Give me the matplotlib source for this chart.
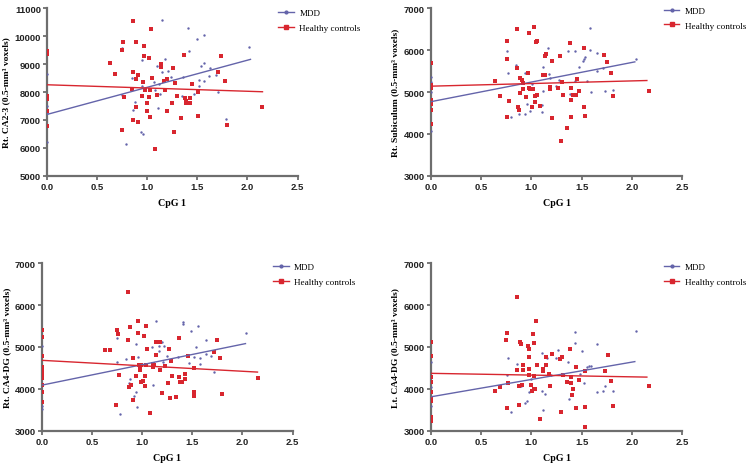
import matplotlib
matplotlib.use("Agg")
import matplotlib.pyplot as plt
import numpy as np

# ---- data (CpG 1 methylation vs. subfield volume) ----
# panel 1: Rt. CA2-3
ca23_mdd_x = [0, 0, 0, 0, 1.15, 1.41, 1.50, 1.57, 1.42, 2.02, 1.18, 0.95, 1.10, 1.15, 1.21,
              1.24, 1.36, 1.54, 1.57, 1.63, 1.62, 1.52, 1.57, 1.69, 1.71, 1.47, 1.52, 1.12,
              1.08, 0.85, 0.88, 0.86, 1.11, 1.13, 0.95, 0.94, 0.96, 0.79, 1.79, 1.35, 0.75,
              0.75, 1.07]
ca23_mdd_y = [8650, 7500, 7250, 6200, 10582, 10283, 9900, 10044, 9483, 9602, 9184, 9160, 8945,
              8706, 8766, 8527, 8551, 8945, 9041, 8849, 8563, 8431, 8395, 8622, 7989, 7930,
              8228, 8288, 8073, 8503, 7631, 7356, 7416, 7930, 8228, 6556, 6496, 6125, 7033,
              7846, 7906, 9566, 8372]
ca23_hc_x = [0, 0, 0, 0, 0, 0, 0, 0.86, 1.04, 0.63, 0.68, 0.76, 0.75, 0.86, 0.85, 0.77, 0.89,
             0.97, 0.97, 1.02, 1.05, 0.89, 0.91, 0.96, 0.98, 1.03, 0.95, 1.02, 1.00, 1.00,
             0.89, 0.86, 0.91, 0.75, 1.03, 1.08, 1.14, 1.14, 1.17, 1.18, 1.20, 1.26, 1.28,
             1.10, 1.20, 1.25, 1.30, 1.27, 1.37, 1.45, 1.34, 1.38, 1.39, 1.39, 1.43, 1.43,
             1.51, 1.51, 1.74, 1.71, 1.78, 1.80, 2.15]
ca23_hc_y = [9483, 9363, 9420, 7870, 7750, 7332, 6795, 10558, 10260, 9041, 8634, 9781, 9518,
             8730, 8109, 7810, 9805, 9662, 9303, 9208, 8490, 8467, 8610, 8347, 8084, 8084,
             7870, 7810, 7607, 7320, 7475, 6986, 6914, 6627, 7094, 5958, 9005, 8885, 8407,
             8084, 8467, 8849, 8323, 7882, 7308, 7595, 7870, 6579, 9327, 8275, 7057, 7798,
             7679, 7595, 7774, 7595, 8013, 7153, 9279, 8706, 8384, 6806, 7463]

# panel 2: Rt. Subiculum
sub_mdd_x = [0, 0, 0, 0, 0.76, 0.77, 0.85, 0.80, 0.88, 0.94, 0.96, 0.99, 0.94, 1.01, 1.12,
             1.12, 1.11, 1.11, 1.17, 1.18, 1.19, 1.24, 1.27, 1.36, 1.43, 1.38, 1.43, 1.47,
             1.51, 1.52, 1.53, 1.55, 1.58, 1.58, 1.59, 1.65, 1.65, 1.71, 1.73, 1.81, 2.04]
sub_mdd_y = [5360, 5240, 4080, 5000, 5976, 5464, 5656, 4400, 4480, 4464, 4720, 4544, 5456,
             5200, 5600, 5016, 4680, 4520, 6040, 5424, 5336, 5144, 5280, 5976, 5976, 4944,
             5272, 5600, 5736, 5792, 5840, 5272, 6536, 6000, 5000, 5944, 5504, 5568, 5016,
             5056, 5800]
sub_hc_x = [0, 0, 0, 0, 0, 0, 0, 0.64, 0.69, 0.76, 0.76, 0.76, 0.78, 0.86, 0.86, 0.87, 0.88,
            0.89, 0.91, 0.89, 0.92, 0.92, 0.95, 0.98, 0.97, 0.98, 0.99, 1.01, 1.02, 1.03,
            1.04, 1.05, 1.06, 1.04, 1.06, 1.09, 1.12, 1.14, 1.14, 1.15, 1.19, 1.19, 1.21,
            1.21, 1.26, 1.28, 1.29, 1.30, 1.31, 1.35, 1.38, 1.39, 1.39, 1.39, 1.41, 1.44,
            1.45, 1.47, 1.52, 1.52, 1.53, 1.72, 1.75, 1.79, 1.81, 2.17]
sub_hc_y = [5696, 5160, 5096, 4816, 4704, 4560, 4240, 5264, 4904, 6216, 5784, 4392, 4784,
            6496, 5568, 4640, 4576, 5344, 5288, 4984, 5224, 5064, 4880, 6400, 5464, 5096,
            5064, 4632, 5064, 6560, 4760, 6200, 6224, 4896, 4920, 4664, 5416, 5416, 5864,
            5920, 5064, 5120, 5744, 4376, 5096, 5864, 3840, 5240, 4920, 4136, 6168, 5096,
            4816, 4400, 4920, 4920, 5320, 5016, 6040, 4640, 4424, 5896, 5720, 5464, 4904,
            5016]

# panel 3: Rt. CA4-DG
rca4_mdd_x = [0, 0, 0, 0, 0.75, 0.75, 0.84, 0.87, 0.88, 0.78, 0.92, 0.94, 0.95, 0.94, 0.96,
              1.10, 1.11, 1.14, 1.17, 1.17, 1.20, 1.22, 1.25, 1.21, 1.36, 1.41, 1.41, 1.49,
              1.54, 1.52, 1.56, 1.58, 1.58, 1.64, 1.64, 1.69, 1.47, 1.72, 2.04]
rca4_mdd_y = [3600, 3518, 5032, 4315, 5207, 4633, 4713, 4139, 4235, 3398, 3821, 3916, 3558,
              5072, 4753, 4992, 4100, 5630, 4912, 5016, 5112, 5016, 4777, 4633, 4753, 5606,
              5550, 5390, 4992, 4753, 5494, 4729, 4594, 5167, 4833, 4793, 4610, 4410, 5343]
rca4_hc_x = [0, 0, 0, 0, 0, 0, 0, 0, 0, 0, 0.86, 0.68, 0.63, 0.75, 0.76, 0.77, 0.74, 0.86,
             0.88, 0.89, 0.87, 0.91, 0.91, 0.94, 0.96, 0.96, 0.97, 0.98, 0.98, 0.99, 0.99,
             1.01, 1.02, 1.03, 1.03, 1.04, 1.05, 1.04, 1.08, 1.14, 1.14, 1.11, 1.11, 1.12,
             1.18, 1.18, 1.20, 1.23, 1.26, 1.27, 1.28, 1.29, 1.30, 1.34, 1.37, 1.37, 1.38,
             1.40, 1.43, 1.43, 1.46, 1.52, 1.52, 1.52, 1.72, 1.75, 1.78, 1.80, 2.16]
rca4_hc_y = [5414, 5247, 4793, 4514, 4434, 4355, 4251, 4100, 3916, 3677, 6307, 4920, 4928,
             5414, 5311, 4331, 3622, 5167, 5470, 4100, 4036, 3733, 4729, 4299, 5614, 5327,
             4578, 4458, 4554, 4570, 4155, 4187, 5255, 4307, 4060, 5510, 4944, 4570, 3414,
             5120, 4809, 4586, 4514, 4570, 4450, 5112, 3892, 4554, 4139, 4952, 3773, 4657,
             4315, 3797, 5215, 4291, 4155, 4155, 4235, 4355, 4793, 4490, 3916, 3837, 4888,
             5175, 4729, 3884, 4251]

# panel 4: Lt. CA4-DG
lca4_mdd_x = [0, 0, 0, 0.77, 0.76, 0.86, 0.90, 0.80, 0.94, 0.96, 0.98, 1.00, 1.11, 1.11,
              1.14, 1.12, 1.16, 1.24, 1.26, 1.20, 1.36, 1.37, 1.43, 1.43, 1.48, 1.50, 1.52,
              1.55, 1.57, 1.59, 1.65, 1.65, 1.71, 1.73, 1.81, 2.04]
lca4_mdd_y = [4633, 3598, 4036, 4737, 4339, 4594, 4076, 3438, 3661, 3717, 3932, 4235, 4849,
              3940, 3876, 3494, 4737, 4745, 4928, 4331, 4649, 3757, 5351, 5096, 4355, 4912,
              4131, 4514, 4538, 4554, 5072, 3916, 3940, 4076, 3956, 5390]
lca4_hc_x = [0, 0, 0, 0, 0, 0, 0, 0, 0, 0.64, 0.69, 0.75, 0.76, 0.76, 0.77, 0.86, 0.86,
             0.88, 0.88, 0.89, 0.90, 0.92, 0.91, 0.92, 0.97, 0.98, 0.98, 0.98, 0.98, 1.00,
             1.01, 1.02, 1.03, 1.03, 1.03, 1.04, 1.05, 1.06, 1.09, 1.12, 1.12, 1.15, 1.15,
             1.18, 1.19, 1.21, 1.28, 1.29, 1.30, 1.31, 1.35, 1.38, 1.39, 1.39, 1.40, 1.41,
             1.44, 1.44, 1.47, 1.53, 1.53, 1.53, 1.76, 1.73, 1.79, 1.81, 2.17]
lca4_hc_y = [5112, 4777, 4275, 4155, 3916, 3773, 3717, 3319, 3240, 3940, 4052, 5167, 5327,
             3542, 4131, 6203, 4450, 4076, 3622, 5112, 5072, 4570, 4100, 4450, 5016, 4952,
             4769, 4474, 4339, 4100, 3940, 5311, 5088, 3996, 4299, 3996, 5614, 4578, 3279,
             4474, 4418, 4570, 4753, 4355, 4076, 4833, 4713, 3438, 4753, 4331, 4171, 4952,
             4275, 4139, 3853, 3996, 4530, 3534, 4219, 4418, 3558, 3096, 4809, 4418, 4195,
             3598, 4076]

# fitted regression lines: (y at x=0, y at end of line)
mdd_fit = [(7200, 9170), (4770, 5720), (4090, 5080), (3810, 4650)]
hc_fit = [(8260, 8010), (5140, 5275), (4680, 4400), (4370, 4280)]
mdd_fit_end = 2.03
hc_fit_end = 2.15

ylabels = ["Rt. CA2-3 (0.5-mm\u00b3 voxels)", "Rt. Subiculum (0.5-mm\u00b3 voxels)",
           "Rt. CA4-DG (0.5-mm\u00b3 voxels)", "Lt. CA4-DG (0.5-mm\u00b3 voxels)"]
ylims = [(5000, 11000), (3000, 7000), (3000, 7000), (3000, 7000)]

panels = [(ca23_mdd_x, ca23_mdd_y, ca23_hc_x, ca23_hc_y),
          (sub_mdd_x, sub_mdd_y, sub_hc_x, sub_hc_y),
          (rca4_mdd_x, rca4_mdd_y, rca4_hc_x, rca4_hc_y),
          (lca4_mdd_x, lca4_mdd_y, lca4_hc_x, lca4_hc_y)]

# axes rectangles in figure fraction [left, bottom, width, height]
rects = [[0.0633, 0.619, 0.335, 0.361], [0.577, 0.619, 0.336, 0.361],
         [0.0566, 0.0696, 0.335, 0.361], [0.577, 0.0696, 0.336, 0.361]]
legend_pos = [(0.369, 0.985), (0.885, 0.99), (0.362, 0.437), (0.885, 0.437)]

mdd_col = "#6464aa"
hc_col = "#d8262f"
spine_col = "#6e6e6e"
serif = "Liberation Serif"
sans = "Liberation Sans"

fig = plt.figure(figsize=(7.47, 4.64), dpi=100)

for i in range(4):
    mx, my, hx, hy = panels[i]
    ax = fig.add_axes(rects[i])
    ax.scatter(mx, my, s=3, marker="o", color=mdd_col, zorder=3, linewidths=0)
    ax.scatter(hx, hy, s=7, marker="s", color=hc_col, zorder=4, linewidths=0)
    ax.plot([0, mdd_fit_end], mdd_fit[i], color=mdd_col, lw=1.0, zorder=5)
    ax.plot([0, hc_fit_end], hc_fit[i], color=hc_col, lw=1.0, zorder=5)

    ax.set_xlim(0, 2.5)
    ax.set_ylim(*ylims[i])
    ax.set_xticks([0, 0.5, 1.0, 1.5, 2.0, 2.5])
    ax.set_xticklabels(["0.0", "0.5", "1.0", "1.5", "2.0", "2.5"])
    lo, hi = ylims[i]
    ax.set_yticks(np.arange(lo, hi + 1, 1000))

    for s in ["top", "right"]:
        ax.spines[s].set_visible(False)
    for s in ["left", "bottom"]:
        ax.spines[s].set_color(spine_col)
        ax.spines[s].set_linewidth(1.6)
    ax.tick_params(direction="out", length=3, width=1.3, color=spine_col, pad=1.5)
    for lab in ax.get_xticklabels() + ax.get_yticklabels():
        lab.set_fontfamily(sans)
        lab.set_fontweight("bold")
        lab.set_fontsize(6.8)
        lab.set_color("#222222")

    ax.set_xlabel("CpG 1", fontfamily=serif, fontweight="bold", fontsize=7.2, labelpad=5)
    ax.set_ylabel(ylabels[i], fontfamily=serif, fontweight="bold", fontsize=6.8, labelpad=3)

    # legend handles: line with a small marker in the middle
    h1 = plt.Line2D([], [], color=mdd_col, lw=1.0, marker="o", markersize=2)
    h2 = plt.Line2D([], [], color=hc_col, lw=1.0, marker="s", markersize=2.5)
    fig.legend([h1, h2], ["MDD", "Healthy controls"], loc="upper left",
               bbox_to_anchor=legend_pos[i], frameon=False,
               prop={"family": serif, "size": 6.6}, handlelength=1.7,
               handletextpad=0.6, labelspacing=0.7, borderaxespad=0, borderpad=0.3)

fig.savefig("out.png", dpi=100)
